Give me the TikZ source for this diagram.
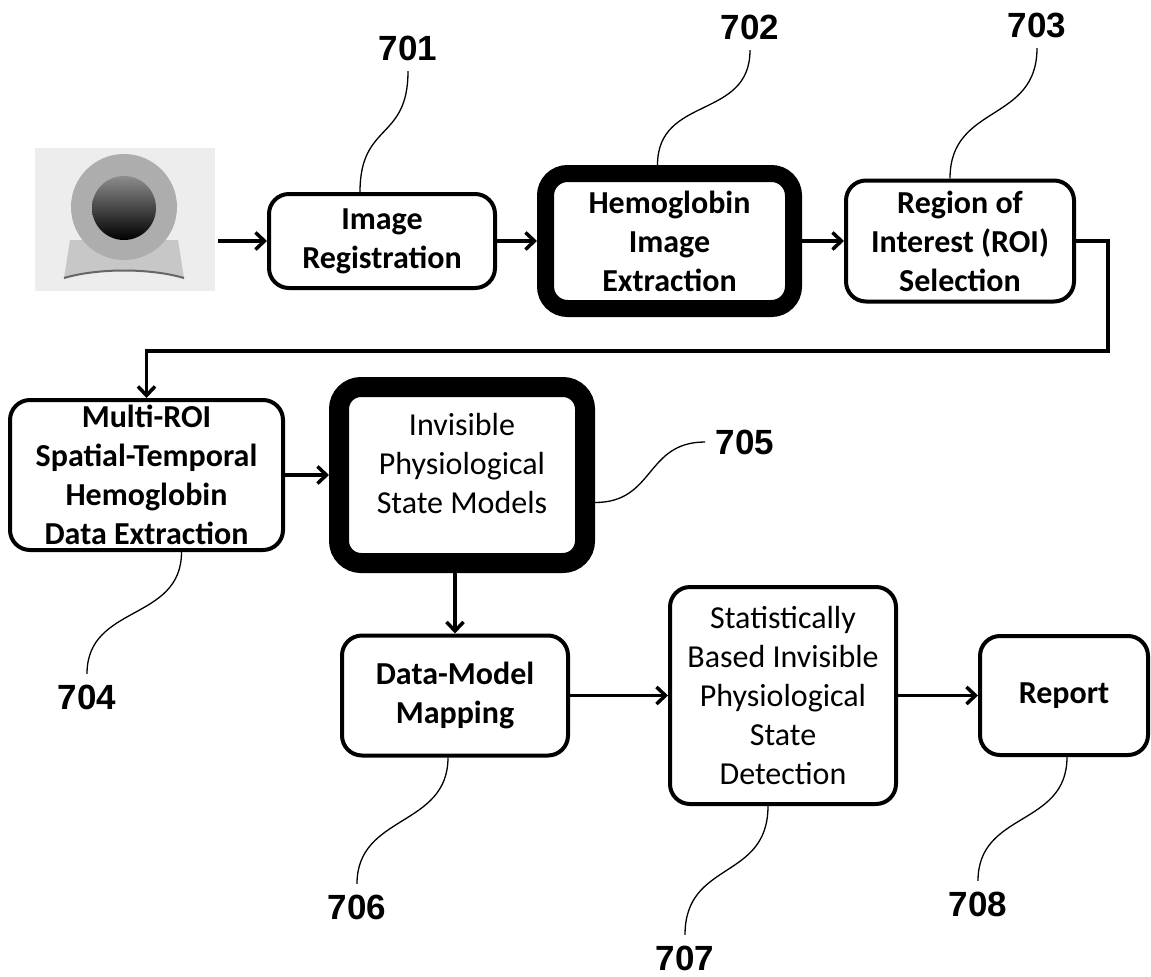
\documentclass[tikz,border=0pt]{standalone}
\usepackage{fontspec}
\setmainfont{Carlito}
\newfontfamily\numfont{Liberation Sans}
\usetikzlibrary{positioning, arrows.meta}

\begin{document}
\begin{tikzpicture}[%
    x=1pt, y=-1pt,
    >={Straight Barb[length=9pt,width=17pt]},
    on grid,
    line width=3.5pt,
    block/.style={draw, rounded corners=20pt, line width=4pt, align=center,
      inner sep=0pt, font=\fontsize{32}{39}\selectfont\bfseries},
    heavy/.style={block, line width=17pt, rounded corners=22pt},
    num/.style={font=\numfont\bfseries\fontsize{35}{40}\selectfont, inner sep=9pt},
    lead/.style={line width=1.3pt}
  ]
  \useasboundingbox (0,0) rectangle (1151,977);

  % camera
  \fill[black!7] (35,148) rectangle (215,291);
  \fill[black!22] (70,240) -- (178,240) -- (184,278)
    .. controls (150,268) and (98,268) .. (64,278) -- cycle;
  \draw[black!60, line width=2pt] (64,278) .. controls (98,268) and (150,268) .. (184,278);
  \fill[black!32] (124,207) circle[radius=53];
  \shade[top color=black!45, bottom color=black] (124,208) circle[radius=32];
  \coordinate (cam) at (218,241);

  \node[block, minimum width=226pt, minimum height=94pt] (A) at (382,241) {Image\\Registration};
  \node[heavy, minimum width=248pt, minimum height=135pt] (B) [right=287.5pt of A] {Hemoglobin\\Image\\Extraction};
  \node[block, minimum width=228pt, minimum height=121pt] (C) [right=290.5pt of B] {Region of\\Interest (ROI)\\Selection};
  \node[block, minimum width=273pt, minimum height=150pt] (D) at (146.5,475) {Multi-ROI\\Spatial-Temporal\\Hemoglobin\\Data Extraction};
  \node[heavy, line width=20pt, minimum width=246pt, minimum height=176pt,
    font=\fontsize{32}{39}\selectfont, text depth=23pt] (E) [right=315.5pt of D] {Invisible\\Physiological\\State Models};
  \node[block, minimum width=226pt, minimum height=120pt] (F) [below=220.5pt of E, xshift=-7pt] {Data-Model\\Mapping};
  \node[block, minimum width=226pt, minimum height=217pt,
    font=\fontsize{32}{39}\selectfont] (G) [right=328pt of F] {Statistically\\Based Invisible\\Physiological\\State\\Detection};
  \node[block, minimum width=168pt, minimum height=119pt] (H) [right=281pt of G] {Report};

  \coordinate (turn) at (1108,351);
  \draw[->] (cam) -- (A);
  \draw[->] (A) -- (B);
  \draw[->] (B) -- (C);
  \draw[->] (C.east) -| (turn) -| (D.north);
  \draw[->] (D.east) -- (E.west |- D.east);
  \draw[->] (E.south -| F.north) -- (F.north);
  \draw[->] (F) -- (G);
  \draw[->] (G) -- (H);

  \node[num] (n1) at (408,48) {701};
  \node[num] (n2) at (750,27) {702};
  \node[num] (n3) at (1037,25) {703};
  \node[num] (n4) at (87,697) {704};
  \node[num] (n5) at (745,442) {705};
  \node[num] (n6) at (357,907) {706};
  \node[num] (n7) at (685,958) {707};
  \node[num] (n8) at (978,904) {708};

  \draw[lead] ([xshift=-22pt]A.north) .. controls +(0,-70) and +(0,70) .. (n1.south);
  \draw[lead] ([xshift=-12pt]B.north) .. controls +(0,-70) and +(0,70) .. (n2.south);
  \draw[lead] ([xshift=-10pt]C.north) .. controls +(0,-75) and +(0,75) .. (n3.south);
  \draw[lead] ([xshift=35pt]D.south) .. controls +(0,70) and +(0,-70) .. (n4.north);
  \draw[lead] ([yshift=-27.5pt]E.east) .. controls +(60,0) and +(-60,0) .. (n5.west);
  \draw[lead] ([xshift=-7pt]F.south) .. controls +(0,70) and +(0,-70) .. (n6.north);
  \draw[lead] ([xshift=-15pt]G.south) .. controls +(0,75) and +(0,-75) .. (n7.north);
  \draw[lead] ([xshift=3pt]H.south) .. controls +(0,70) and +(0,-70) .. (n8.north);
\end{tikzpicture}
\end{document}
